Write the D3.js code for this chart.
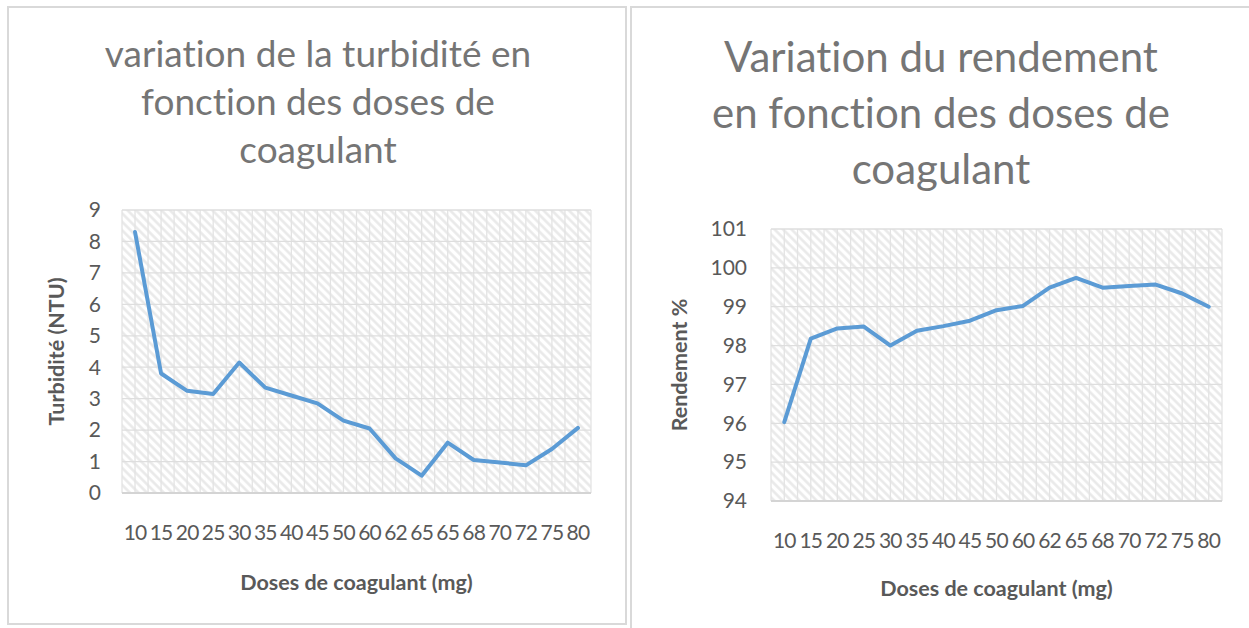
<!DOCTYPE html>
<html>
<head>
<meta charset="utf-8">
<script src="https://cdn.jsdelivr.net/npm/d3@7"></script>
<style>
  body { margin: 0; background: #fff; }
  svg { display: block; font-family: Lato, "Open Sans", sans-serif; }
  text, tspan { font-variant-ligatures: none; font-feature-settings: "liga" 0, "clig" 0, "dlig" 0; }
</style>
</head>
<body>
<svg width="1249" height="628"></svg>
<script>
// values
const dosesTurb = ["10", "15", "20", "25", "30", "35", "40", "45", "50", "60", "62", "65", "65", "68", "70", "72", "75", "80"];
const turbidite = [8.3, 3.8, 3.25, 3.15, 4.15, 3.35, 3.1, 2.85, 2.3, 2.05, 1.1, 0.55, 1.6, 1.05, 0.97, 0.88, 1.4, 2.07];

const dosesRend = ["10", "15", "20", "25", "30", "35", "40", "45", "50", "60", "62", "65", "68", "70", "72", "75", "80"];
const rendement = [96.03, 98.18, 98.44, 98.49, 98.0, 98.38, 98.5, 98.64, 98.91, 99.02, 99.49, 99.74, 99.49, 99.53, 99.57, 99.34, 99.0];

const titleTurb = ["variation de la turbidité en", "fonction des doses de", "coagulant"];
const titleRend = ["Variation du rendement", "en fonction des doses de", "coagulant"];

const svg = d3.select("svg");

// hatched plot-area fill
const defs = svg.append("defs");
defs.append("pattern")
  .attr("id", "hatch")
  .attr("patternUnits", "userSpaceOnUse")
  .attr("width", 6)
  .attr("height", 6)
  .attr("patternTransform", "rotate(-45)")
  .append("line")
  .attr("x1", 1.5).attr("y1", 0)
  .attr("x2", 1.5).attr("y2", 6)
  .attr("stroke", "#e8e8e8")
  .attr("stroke-width", 2.5);

// panel frames
svg.append("rect")
  .attr("x", 8).attr("y", 7)
  .attr("width", 618).attr("height", 617)
  .attr("fill", "none")
  .attr("stroke", "#d9d9d9")
  .attr("stroke-width", 2);
svg.append("rect")
  .attr("x", 631).attr("y", 7)
  .attr("width", 640).attr("height", 640)
  .attr("fill", "none")
  .attr("stroke", "#d9d9d9")
  .attr("stroke-width", 2);

function drawChart(o) {
  const g = svg.append("g");
  const x = d3.scalePoint()
    .domain(d3.range(o.cats.length))
    .range([o.left, o.right])
    .padding(0.5);
  const y = d3.scaleLinear().domain(o.yDomain).range([o.bottom, o.top]);
  const half = (o.right - o.left) / o.cats.length / 2;

  g.append("rect")
    .attr("x", o.left).attr("y", o.top)
    .attr("width", o.right - o.left).attr("height", o.bottom - o.top)
    .attr("fill", "url(#hatch)");

  // vertical gridlines, every half category
  g.selectAll(".vgrid")
    .data(d3.range(o.cats.length * 2 + 1))
    .join("line")
    .attr("x1", (i) => o.left + i * half)
    .attr("x2", (i) => o.left + i * half)
    .attr("y1", o.top).attr("y2", o.bottom)
    .attr("stroke", "#e3e3e3")
    .attr("stroke-width", 1.3);

  const ticks = d3.range(o.yDomain[0], o.yDomain[1] + 1);
  g.selectAll(".hgrid")
    .data(ticks)
    .join("line")
    .attr("x1", o.left).attr("x2", o.right)
    .attr("y1", (d) => y(d)).attr("y2", (d) => y(d))
    .attr("stroke", (d) => (d === o.yDomain[0] ? "#d4d4d4" : "#dedede"))
    .attr("stroke-width", (d) => (d === o.yDomain[0] ? 2 : 1.3));

  g.selectAll(".ylab")
    .data(ticks)
    .join("text")
    .attr("x", o.yLabX)
    .attr("y", (d) => y(d))
    .attr("dy", "0.35em")
    .attr("text-anchor", "end")
    .attr("fill", "#595959")
    .style("font-size", "21px")
    .text((d) => d);

  g.selectAll(".xlab")
    .data(o.cats)
    .join("text")
    .attr("x", (d, i) => x(i))
    .attr("y", o.xLabY)
    .attr("text-anchor", "middle")
    .attr("fill", "#595959")
    .style("font-size", "21px")
    .style("letter-spacing", "-0.8px")
    .text((d) => d);

  const line = d3.line()
    .x((d, i) => x(i))
    .y((d) => y(d));
  g.append("path")
    .datum(o.values)
    .attr("d", line)
    .attr("fill", "none")
    .attr("stroke", "#5b9bd5")
    .attr("stroke-width", 4)
    .attr("stroke-linejoin", "round")
    .attr("stroke-linecap", "round");

  g.append("text")
    .attr("x", (o.left + o.right) / 2)
    .attr("y", o.xTitleY)
    .attr("text-anchor", "middle")
    .attr("fill", "#595959")
    .style("font-size", "21.5px")
    .style("font-weight", "bold")
    .text("Doses de coagulant (mg)");

  g.append("text")
    .attr("transform", "translate(" + o.yTitleX + "," + (o.top + o.bottom) / 2 + ") rotate(-90)")
    .attr("text-anchor", "middle")
    .attr("fill", "#595959")
    .style("font-size", "21.5px")
    .style("font-weight", "bold")
    .text(o.yTitle);

  g.append("text")
    .attr("text-anchor", "middle")
    .attr("fill", "#757575")
    .style("font-size", o.titleSize + "px")
    .style("letter-spacing", "0.01px")
    .selectAll("tspan")
    .data(o.title)
    .join("tspan")
    .attr("x", o.titleX)
    .attr("y", (d, i) => o.titleY + i * o.titleStep)
    .text((d) => d);
}

drawChart({
  cats: dosesTurb, values: turbidite, yDomain: [0, 9],
  left: 122, right: 591, top: 210, bottom: 493,
  yLabX: 101, xLabY: 540, xTitleY: 590, yTitleX: 64,
  yTitle: "Turbidité (NTU)",
  title: titleTurb, titleX: 318, titleY: 67, titleStep: 48, titleSize: 37
});

drawChart({
  cats: dosesRend, values: rendement, yDomain: [94, 101],
  left: 771, right: 1222, top: 229, bottom: 501,
  yLabX: 747, xLabY: 548, xTitleY: 596, yTitleX: 687,
  yTitle: "Rendement %",
  title: titleRend, titleX: 941, titleY: 72, titleStep: 56, titleSize: 42
});
</script>
</body>
</html>
